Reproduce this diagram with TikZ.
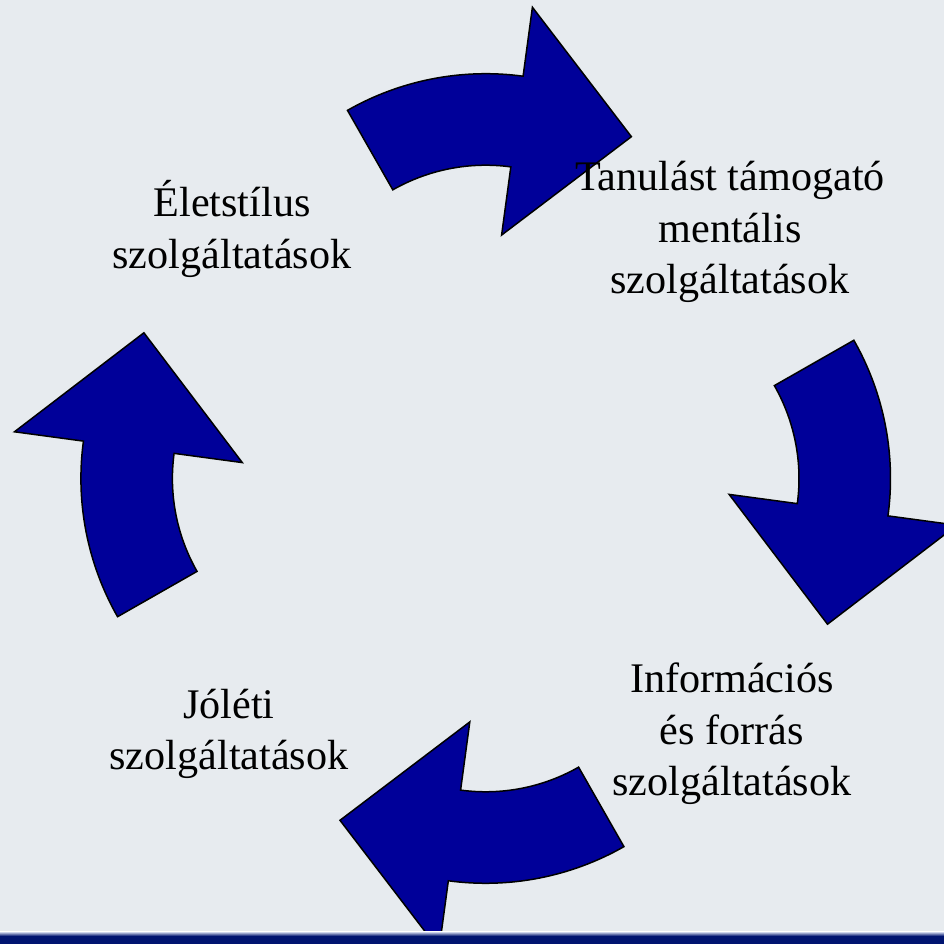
\documentclass[tikz,border=0pt]{standalone}
\usepackage{fontspec}
\setmainfont{Liberation Serif}
\definecolor{bg}{RGB}{231,235,239}
\definecolor{arrowblue}{RGB}{0,0,153}
\definecolor{bandblue}{RGB}{0,20,112}
\definecolor{bandlight}{RGB}{205,212,235}

\begin{document}
\begin{tikzpicture}[
                x = 0.2mm, y = 0.2mm, % one unit per pixel
                line join = miter, % sharp arrow corners
                semithick % line style
            ]

            \tikzstyle{every node}=[inner sep = 0pt, align = center,
            font = \fontsize{24}{29.3}\selectfont]
            \tikzstyle{bend arrow}=[draw = black, fill = arrowblue,
            line width = 0.3mm]

            % background
            \fill[bg] (0,0) rectangle (944,944);
            \useasboundingbox (0,0) rectangle (944,944);

            % four curved arrows round the centre
            \foreach \r in {0,-90,-180,-270} {
                \draw[bend arrow, shift = {(485.7,465.5)}, rotate = \r,
                shift = {(0,125.8)}] (119.7:279) arc (119.7:82.3:279)
                -- (82.3:348.6) -- (145.7,216) -- (82.3:118.7)
                -- (82.3:187.5) arc (82.3:119.7:187.5) -- cycle;
            }

            % band at the bottom
            \fill[bandblue] (0,0) rectangle (944,8);
            \shade[top color = bandlight, bottom color = bandblue] (0,8)
            rectangle (944,12);

            \node (1) at (232,714.9) {Életstílus\\ szolgáltatások};
            \node (2) at (730,711.9) {Tanulást támogató\\ mentális\\
                szolgáltatások};
            \node (3) at (732,210.1) {Információs\\ és forrás\\
                szolgáltatások};
            \node (4) at (229,210.1) {Jóléti\\ szolgáltatások};

        \end{tikzpicture}
\end{document}
